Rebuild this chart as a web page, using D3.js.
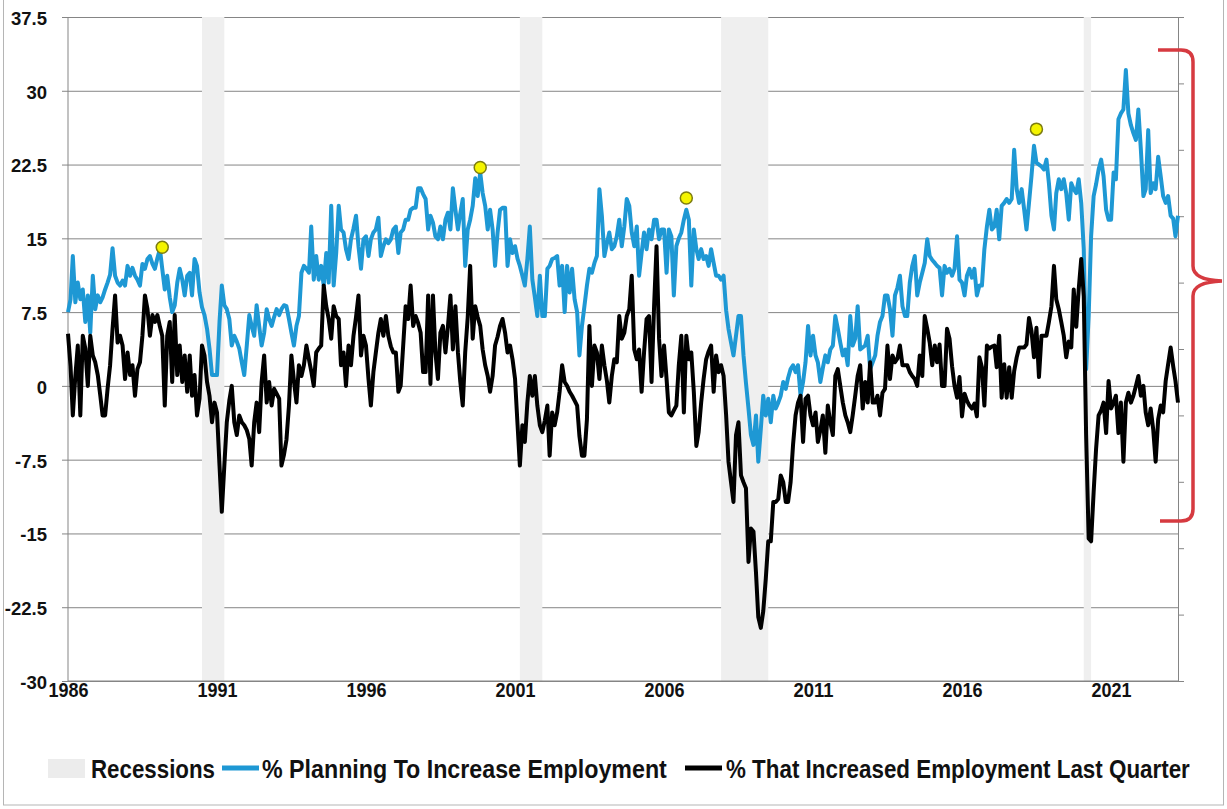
<!DOCTYPE html>
<html lang="en">
<head>
<meta charset="UTF-8">
<title>Small business hiring plans vs. actual hiring</title>
<script src="https://cdn.jsdelivr.net/npm/d3@7/dist/d3.min.js"></script>
<style>
  body { margin: 0; background: #fff; }
  svg text {
    font-family: "Liberation Sans", Arial, sans-serif;
    font-weight: bold;
    fill: #111;
  }
</style>
</head>
<body>
<script>
  // monthly values, Jan 1986 .. Apr 2023 (one row per year)
  var planning = [
    7.5, 8.8, 13.2, 8.5, 10.5, 8.8, 9.8, 6.5, 9.2, 5.4, 11.2, 7.8,
    9.2, 8.5, 9.0, 9.8, 10.5, 11.3, 14.0, 11.2, 10.5, 10.2, 10.7, 10.2,
    12.2, 11.2, 12.0, 11.2, 10.8, 10.2, 12.4, 11.9, 12.9, 13.2, 12.4, 11.9,
    13.0, 13.9, 11.9, 9.8, 11.2, 9.0, 7.5, 8.2, 10.5, 11.9, 10.8, 9.2,
    11.2, 11.5, 9.2, 12.9, 12.2, 9.5, 8.0, 7.2, 5.8, 3.8, 1.1, 1.1,
    1.1, 6.5, 10.2, 8.2, 7.8, 6.8, 4.1, 5.1, 4.5, 3.8, 2.4, 1.1,
    4.1, 7.2, 6.1, 5.1, 8.2, 6.1, 4.1, 5.4, 7.8, 6.8, 6.1, 7.0,
    7.8, 7.2, 7.8, 8.2, 8.1, 6.8, 5.4, 4.1, 6.1, 7.1, 11.5, 12.2,
    11.9, 11.5, 16.2, 10.8, 13.2, 10.8, 12.2, 10.2, 13.5, 10.5, 18.3, 10.2,
    13.5, 18.3, 15.9, 15.6, 13.9, 12.9, 14.9, 16.0, 17.3, 14.2, 11.9, 14.9,
    15.2, 13.2, 14.9, 15.6, 15.9, 17.1, 13.2, 14.2, 14.9, 14.5, 14.9, 15.9,
    16.2, 13.5, 15.6, 15.9, 16.9, 16.9, 17.9, 18.1, 18.1, 20.1, 20.1, 19.5,
    19.0, 15.9, 17.3, 16.6, 15.2, 14.9, 16.2, 14.9, 16.9, 17.6, 15.9, 20.1,
    17.9, 15.9, 17.5, 19.0, 12.2, 15.9, 16.9, 18.3, 21.1, 19.3, 21.7, 19.6,
    18.3, 15.9, 17.9, 15.9, 12.2, 15.6, 17.9, 18.1, 18.1, 12.2, 14.9, 13.5,
    14.2, 12.9, 12.2, 11.2, 10.2, 12.9, 16.2, 10.8, 9.0, 7.1, 11.2, 7.1,
    7.1, 11.9, 12.2, 12.9, 13.0, 13.2, 10.2, 12.2, 7.5, 12.2, 9.5, 11.9,
    8.8, 7.5, 3.1, 6.1, 8.1, 10.2, 11.9, 11.5, 12.5, 13.2, 20.0, 17.3,
    13.2, 14.5, 15.6, 13.9, 14.2, 15.2, 16.9, 14.2, 16.2, 19.0, 18.3, 15.6,
    14.2, 16.2, 11.2, 13.5, 15.6, 13.9, 15.9, 14.9, 16.9, 16.9, 14.9, 15.9,
    15.9, 11.5, 15.9, 15.2, 9.2, 14.2, 15.0, 15.6, 16.9, 17.9, 16.9, 10.2,
    15.9, 13.9, 12.9, 13.9, 12.9, 13.2, 12.2, 13.9, 12.5, 11.2, 11.2, 10.8,
    11.2, 7.7, 5.8, 4.4, 3.1, 5.1, 7.1, 7.1, 3.1, 0.3, -2.3, -5.0,
    -6.0, -3.0, -7.7, -4.4, -1.0, -3.0, -1.3, -3.7, -1.0, -2.3, -1.7, -1.0,
    0.4, -0.3, 0.8, 1.7, 2.1, 1.4, 2.1, -1.0, 0.4, 2.4, 6.1, 3.1,
    5.1, 3.1, 2.4, 0.4, 1.8, 3.1, 2.4, 3.7, 4.1, 7.1, 5.8, 4.4,
    3.1, 3.7, 2.1, 7.1, 4.1, 4.8, 8.1, 3.7, 3.9, 4.1, 5.1, 1.7,
    2.4, 3.1, 5.1, 6.5, 7.1, 9.2, 9.2, 7.8, 5.1, 9.2, 10.0, 11.2,
    8.1, 7.1, 7.1, 10.5, 12.2, 13.2, 9.2, 10.5, 11.5, 12.5, 14.9, 13.2,
    12.8, 12.5, 12.2, 12.0, 9.2, 12.2, 11.5, 11.9, 11.2, 11.9, 15.2, 10.8,
    10.5, 9.2, 11.2, 11.9, 11.0, 11.9, 9.2, 10.2, 10.2, 13.9, 16.2, 17.9,
    15.9, 16.2, 17.9, 14.9, 18.3, 18.6, 19.0, 18.6, 19.0, 24.0, 20.0, 18.6,
    20.0, 17.9, 15.9, 18.6, 21.3, 24.4, 22.7, 22.5, 22.3, 22.0, 23.0, 20.6,
    17.3, 15.9, 19.6, 21.0, 20.0, 21.0, 19.6, 16.9, 20.6, 20.0, 19.6, 21.0,
    18.6, 13.9, 1.7, 7.1, 15.2, 19.3, 20.5, 22.0, 23.0, 21.3, 17.9, 16.9,
    16.9, 21.7, 21.0, 27.1, 27.7, 28.1, 32.1, 27.7, 26.5, 25.7, 25.0, 28.1,
    24.0, 19.3, 20.0, 26.0, 19.6, 20.6, 20.0, 23.3, 21.3, 19.3, 18.6, 19.3,
    17.3, 17.0, 15.2, 17.3
  ];

  var increased = [
    5.3, 2.0, -3.0, 1.0, 4.1, -3.0, 5.1, 3.8, 0, 5.1, 3.1, 2.4,
    1.1, -1.0, -3.0, -3.0, -0.3, 2.1, 5.8, 9.2, 4.4, 5.1, 4.1, 0.7,
    3.4, 1.1, 2.1, -1.0, 1.7, 2.4, 5.1, 9.2, 7.8, 5.1, 7.2, 6.5,
    7.2, 6.0, 5.1, -2.0, 5.1, 6.5, 0.4, 7.2, 1.1, 4.1, 0.4, 3.1,
    -0.6, 3.1, -1.0, 1.1, -3.0, -1.3, 4.1, 3.1, 0.4, -1.0, -3.7, -1.7,
    -2.7, -8.1, -12.8, -8.1, -3.7, -1.5, 0, -3.7, -5.0, -3.0, -3.7, -4.0,
    -4.5, -5.4, -8.1, -3.7, -1.7, -4.7, 0.4, 3.1, -1.7, 0.4, -2.0, -0.3,
    -0.8, -1.3, -8.1, -7.0, -5.5, -2.0, 3.1, 0.5, -1.7, 2.1, 1.0, 2.1,
    4.1, 2.7, 1.5, 0, 3.4, 3.8, 4.1, 10.2, 8.1, 6.8, 4.8, 8.1,
    7.1, 6.8, 2.1, 3.4, 0, 4.1, 2.1, 5.1, 7.0, 9.2, 3.1, 5.1,
    4.1, 0.7, -2.0, 1.4, 3.4, 5.4, 6.8, 5.1, 7.1, 5.1, 4.0, 3.4,
    3.4, -0.6, 0, 4.1, 8.1, 6.8, 10.2, 6.1, 7.1, 6.4, 5.4, 1.4,
    1.4, 9.2, 0.2, 9.2, 3.4, 0.7, 5.4, 6.1, 3.4, 6.0, 9.2, 3.7,
    8.1, 3.4, 0.5, -2.0, 3.4, 7.0, 12.2, 4.8, 8.1, 7.0, 6.1, 3.7,
    2.1, 1.0, -0.6, 1.0, 4.1, 5.0, 6.1, 6.8, 5.4, 3.4, 4.1, 2.7,
    0.7, -4.0, -8.1, -4.0, -5.7, -1.7, 1.0, -1.0, 1.0, -2.0, -4.0, -4.7,
    -3.5, -2.0, -7.1, -2.7, -4.0, -2.7, -0.6, 2.1, 0.4, 0, -0.6, -1.0,
    -1.5, -2.0, -5.1, -7.1, -7.1, -3.4, 6.1, 0, 4.1, 3.4, 0.7, 4.1,
    2.1, 0.5, -1.7, 1.0, 2.7, 2.4, 7.1, 4.8, 5.4, 7.1, 7.8, 11.2,
    3.7, 2.7, 3.7, -0.6, 3.4, 6.8, 7.1, 0.4, 8.1, 14.2, 4.8, 1.0,
    4.1, 0.7, -2.7, -3.0, -2.5, -2.0, 2.1, 5.1, -2.7, 5.1, 2.7, 3.4,
    -0.6, -6.1, -4.7, -1.7, 0.7, 2.7, 3.5, 4.1, -0.6, 3.1, 1.4, 2.1,
    1.0, -3.0, -7.7, -9.8, -11.8, -5.0, -3.7, -9.1, -9.8, -10.4, -17.9, -14.5,
    -14.8, -19.0, -23.5, -24.6, -22.9, -19.6, -15.8, -15.8, -11.8, -11.8, -11.5, -9.1,
    -9.8, -11.8, -11.8, -9.8, -6.0, -3.0, -1.7, -1.0, -5.7, -1.3, -1.0, -3.0,
    -4.0, -2.7, -5.7, -4.5, -3.0, -6.8, -2.0, -3.7, -5.0, 1.0, 1.7, 0,
    -1.7, -3.0, -3.7, -4.7, -3.0, -1.0, 1.0, 2.1, -2.3, 0.4, -1.7, 2.4,
    -1.7, -1.7, -1.0, -3.0, -0.7, -0.3, 4.1, 0.7, 3.1, 2.4, 2.8, 4.1,
    2.1, 2.1, 2.1, 1.4, 1.0, 0.7, 0, 3.1, 1.0, 7.1, 5.8, 4.4,
    2.1, 4.1, 2.4, 4.2, 0, 0, 5.8, 4.8, 2.0, 0, -1.2, 0.9,
    -3.1, -0.8, -1.5, -2.0, -2.3, -1.8, -3.1, 2.9, 1.9, -2.0, 4.1, 3.8,
    4.0, 4.1, 1.9, 5.1, -1.2, 2.2, -1.2, 1.9, -1.2, 1.5, 2.9, 3.9,
    3.9, 3.9, 4.2, 6.9, 5.6, 2.9, 5.9, 0.9, 5.1, 5.1, 5.1, 6.5,
    8.1, 12.2, 8.8, 7.8, 6.5, 5.1, 2.9, 4.5, 3.9, 9.8, 6.0, 9.8,
    12.9, 9.1, -5.0, -15.5, -15.8, -10.8, -6.4, -3.0, -2.5, -1.7, -4.8, 0.5,
    -2.3, -1.7, -1.0, -4.8, -1.7, -7.7, -1.7, -0.7, -1.7, -1.0, 0, 1.0,
    -1.0, 0, -2.7, -4.0, -2.3, -4.4, -7.7, -3.4, -2.0, -2.7, 0.5, 2.2,
    3.9, 2.0, 0.5, -1.7
  ];

  var recessions = [["1990-07", "1991-03"], ["2001-03", "2001-11"], ["2007-12", "2009-06"], ["2020-02", "2020-04"]];
  var peaks = [["1989-03", 14.1], ["1999-11", 22.2], ["2006-10", 19.1], ["2018-07", 26.1]];
  var yTicks = [-30, -22.5, -15, -7.5, 0, 7.5, 15, 22.5, 30, 37.5];
  var yearTicks = [1986, 1991, 1996, 2001, 2006, 2011, 2016, 2021];
  var legendNames = ["Recessions", "% Planning To Increase Employment", "% That Increased Employment Last Quarter"];

  var w = 1227, h = 809;
  var plot = { left: 68, right: 1178, top: 17, bottom: 681 };
  var blue = "#1e98d4";
  var parseMonth = d3.timeParse("%Y-%m");
  var start = new Date(1986, 0, 1);

  var x = d3.scaleTime()
    .domain([start, new Date(2023, 3, 1)])
    .range([plot.left, plot.right]);
  var y = d3.scaleLinear()
    .domain([-30, 37.5])
    .range([plot.bottom, plot.top]);

  var svg = d3.select('body')
    .append('svg')
    .attr('width', w)
    .attr('height', h);

  // outer frame
  svg.append('rect')
    .attr('x', 3.5).attr('y', -1)
    .attr('width', 1220).attr('height', 806)
    .attr('fill', 'none')
    .attr('stroke', '#b5b5b5');

  // gridlines + left labels
  svg.append('g')
    .attr('transform', `translate(${plot.left},0)`)
    .call(d3.axisLeft(y).tickValues(yTicks).tickSize(-(plot.right - plot.left)).tickSizeOuter(0).tickFormat(d => String(d)))
    .call(g => g.select('.domain').remove())
    .call(g => g.selectAll('.tick line').attr('stroke', '#858585').attr('x1', -6))
    .call(g => g.selectAll('.tick text')
      .attr('x', -21).attr('dy', '0.4em')
      .style('font-size', '18.5px'));

  // recession shading sits on top of the gridlines
  svg.append('g').selectAll('rect')
    .data(recessions)
    .enter()
    .append('rect')
    .attr('x', d => x(parseMonth(d[0])))
    .attr('width', d => x(d3.timeMonth.offset(parseMonth(d[1]), 1)) - x(parseMonth(d[0])))
    .attr('y', plot.top)
    .attr('height', plot.bottom - plot.top)
    .attr('fill', '#efefef');

  // axes lines
  svg.append('line')
    .attr('x1', plot.left).attr('x2', plot.left)
    .attr('y1', plot.top).attr('y2', plot.bottom)
    .attr('stroke', '#858585');
  svg.append('line')
    .attr('x1', plot.left).attr('x2', plot.right)
    .attr('y1', plot.bottom).attr('y2', plot.bottom)
    .attr('stroke', '#858585');

  // unlabelled right axis, 10 intervals
  var yRight = d3.scaleLinear().domain([0, 10]).range([plot.bottom, plot.top]);
  svg.append('g')
    .attr('transform', `translate(${plot.right},0)`)
    .call(d3.axisRight(yRight).ticks(10).tickSize(6).tickSizeOuter(0).tickFormat(''))
    .call(g => g.select('.domain').attr('stroke', '#858585'))
    .call(g => g.selectAll('.tick line').attr('stroke', '#858585'));

  // year labels
  svg.append('g')
    .attr('transform', `translate(0,${plot.bottom})`)
    .call(d3.axisBottom(x).tickValues(yearTicks.map(yr => new Date(yr, 0, 1))).tickSize(0).tickFormat(d3.timeFormat('%Y')))
    .call(g => g.select('.domain').remove())
    .call(g => g.selectAll('.tick text')
      .attr('y', 2).attr('dy', '0.71em')
      .attr('textLength', 40).attr('lengthAdjust', 'spacingAndGlyphs')
      .style('font-size', '19.5px'));

  var line = d3.line()
    .x((d, i) => x(d3.timeMonth.offset(start, i)))
    .y(d => y(d));

  svg.append('path')
    .datum(planning)
    .attr('d', line)
    .attr('fill', 'none')
    .attr('stroke', blue)
    .attr('stroke-width', 4)
    .attr('stroke-linejoin', 'round');

  svg.append('path')
    .datum(increased)
    .attr('d', line)
    .attr('fill', 'none')
    .attr('stroke', '#000')
    .attr('stroke-width', 4)
    .attr('stroke-linejoin', 'round');

  svg.selectAll('circle.peak')
    .data(peaks)
    .enter()
    .append('circle')
    .attr('class', 'peak')
    .attr('cx', d => x(parseMonth(d[0])))
    .attr('cy', d => y(d[1]))
    .attr('r', 6)
    .attr('fill', '#f4f400')
    .attr('stroke', '#7d7d10')
    .attr('stroke-width', 1.5);

  // red curly brace on the right
  svg.append('path')
    .attr('d', 'M1158,50 L1181,50 Q1193,50 1193,62 L1193,266 Q1193,280 1222,281 Q1193,282 1193,296 L1193,509 Q1193,521 1181,521 L1160,521')
    .attr('fill', 'none')
    .attr('stroke', '#d63a40')
    .attr('stroke-width', 3.5);

  // legend
  var lg = svg.append('g');
  lg.append('rect')
    .attr('x', 48).attr('y', 759).attr('width', 37).attr('height', 19)
    .attr('fill', '#ececec');
  lg.append('line')
    .attr('x1', 222).attr('x2', 259).attr('y1', 768).attr('y2', 768)
    .attr('stroke', blue).attr('stroke-width', 5);
  lg.append('line')
    .attr('x1', 685).attr('x2', 722).attr('y1', 768).attr('y2', 768)
    .attr('stroke', '#000').attr('stroke-width', 5);

  // legend text is tall and narrow: size it to the width, then stretch vertically
  var legendX = [91, 262, 726];
  var legendW = [124, 405, 464];
  var capSize = 25;
  lg.selectAll('text')
    .data(legendNames)
    .enter()
    .append('text')
    .style('font-size', capSize + 'px')
    .text(d => d)
    .each(function(d, i) {
      var natural = this.getComputedTextLength();
      var fs = capSize * legendW[i] / natural;
      d3.select(this)
        .style('font-size', fs + 'px')
        .attr('transform', `translate(${legendX[i]},778) scale(1,${capSize / fs})`);
    });
</script>
</body>
</html>
